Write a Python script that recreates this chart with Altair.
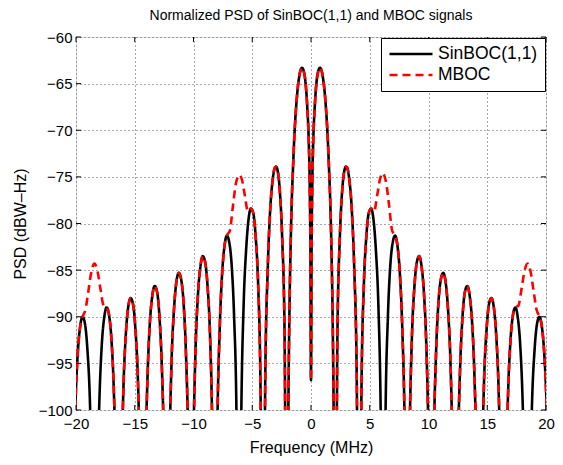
import altair as alt
import pandas as pd

chart_title = "Normalized PSD of SinBOC(1,1) and MBOC signals"
series_names = ["SinBOC(1,1)", "MBOC"]
series_colors = ["black", "red"]
x_ticks = [-20, -15, -10, -5, 0, 5, 10, 15, 20]
y_ticks = [-100, -95, -90, -85, -80, -75, -70, -65, -60]

# SinBOC(1,1) PSD, negative frequencies (MHz) and values (dBW-Hz)
freq_neg = [
    -20.26, -20.05, -19.85, -19.64, -19.44, -19.23, -19.03, -18.82, -18.62, -18.41,
    -18.21, -18.00, -17.80, -17.59, -17.39, -17.19, -16.98, -16.78, -16.57, -16.37,
    -16.16, -15.96, -15.76, -15.55, -15.35, -15.14, -14.94, -14.73, -14.53, -14.32,
    -14.12, -13.91, -13.71, -13.50, -13.30, -13.09, -12.89, -12.69, -12.48, -12.28,
    -12.07, -11.87, -11.66, -11.46, -11.25, -11.05, -10.84, -10.64, -10.43, -10.23,
    -10.02, -9.82, -9.62, -9.41, -9.21, -9.00, -8.80, -8.59, -8.39, -8.18,
    -7.98, -7.77, -7.57, -7.36, -7.16, -6.96, -6.75, -6.55, -6.34, -6.14,
    -5.93, -5.73, -5.52, -5.32, -5.12, -4.91, -4.71, -4.50, -4.30, -4.09,
    -3.89, -3.68, -3.48, -3.27, -3.07, -2.97, -2.86, -2.66, -2.46, -2.25, -2.05,
    -1.94, -1.89, -1.84, -1.74, -1.64, -1.53, -1.43, -1.33, -1.23, -1.13, -1.02,
    -0.92, -0.76, -0.61, -0.51, -0.41, -0.31, -0.20, -0.10, -0.05,
]
psd_neg = [
    -111.0, -99.5, -93.9, -91.0, -90.0, -90.8, -93.5, -98.9, -110.0, -130.0,
    -109.8, -98.6, -92.9, -90.0, -89.0, -89.8, -92.5, -97.9, -109.0, -130.0,
    -108.8, -97.5, -91.9, -88.9, -88.0, -88.7, -91.4, -96.8, -107.9, -130.0,
    -107.6, -96.3, -90.6, -87.7, -86.7, -87.4, -90.1, -95.5, -106.5, -130.0,
    -106.3, -94.9, -89.2, -86.3, -85.3, -86.0, -88.6, -94.0, -105.0, -130.0,
    -104.7, -93.3, -87.6, -84.6, -83.5, -84.2, -86.8, -92.1, -103.1, -130.0,
    -102.7, -91.3, -85.5, -82.4, -81.3, -82.0, -84.5, -89.8, -100.7, -130.0,
    -100.1, -88.6, -82.8, -79.6, -78.4, -78.9, -81.4, -86.5, -97.3, -130.0,
    -96.4, -84.8, -78.7, -75.4, -74.0, -73.9, -74.2, -76.4, -81.3, -91.7, -130.0,
    -102.2, -95.1, -89.9, -82.8, -77.7, -74.0, -71.0, -68.7, -66.9, -65.5, -64.4,
    -63.7, -63.3, -63.7, -64.4, -65.7, -67.7, -70.8, -76.6, -82.6,
]
freq_center = [0.0]
psd_center = [-96.8]
# SinBOC(1,1) PSD, positive frequencies
freq_pos = [
    0.05, 0.10, 0.20, 0.31, 0.41, 0.51, 0.61, 0.76, 0.92,
    1.02, 1.13, 1.23, 1.33, 1.43, 1.53, 1.64, 1.74, 1.84, 1.89, 1.94,
    2.05, 2.25, 2.46, 2.66, 2.86, 2.97, 3.07, 3.27, 3.48, 3.68, 3.89,
    4.09, 4.30, 4.50, 4.71, 4.91, 5.12, 5.32, 5.52, 5.73, 5.93,
    6.14, 6.34, 6.55, 6.75, 6.96, 7.16, 7.36, 7.57, 7.77, 7.98,
    8.18, 8.39, 8.59, 8.80, 9.00, 9.21, 9.41, 9.62, 9.82, 10.02,
    10.23, 10.43, 10.64, 10.84, 11.05, 11.25, 11.46, 11.66, 11.87, 12.07,
    12.28, 12.48, 12.69, 12.89, 13.09, 13.30, 13.50, 13.71, 13.91, 14.12,
    14.32, 14.53, 14.73, 14.94, 15.14, 15.35, 15.55, 15.76, 15.96, 16.16,
    16.37, 16.57, 16.78, 16.98, 17.19, 17.39, 17.59, 17.80, 18.00, 18.21,
    18.41, 18.62, 18.82, 19.03, 19.23, 19.44, 19.64, 19.85, 20.05, 20.26,
]
psd_pos = [
    -82.6, -76.6, -70.8, -67.7, -65.7, -64.4, -63.7, -63.3, -63.7,
    -64.4, -65.5, -66.9, -68.7, -71.0, -74.0, -77.7, -82.8, -89.9, -95.1, -102.2,
    -130.0, -91.7, -81.3, -76.4, -74.2, -73.9, -74.0, -75.4, -78.7, -84.8, -96.4,
    -130.0, -97.3, -86.5, -81.4, -78.9, -78.4, -79.6, -82.8, -88.6, -100.1,
    -130.0, -100.7, -89.8, -84.5, -82.0, -81.3, -82.4, -85.5, -91.3, -102.7,
    -130.0, -103.1, -92.1, -86.8, -84.2, -83.5, -84.6, -87.6, -93.3, -104.7,
    -130.0, -105.0, -94.0, -88.6, -86.0, -85.3, -86.3, -89.2, -94.9, -106.3,
    -130.0, -106.5, -95.5, -90.1, -87.4, -86.7, -87.7, -90.6, -96.3, -107.6,
    -130.0, -107.9, -96.8, -91.4, -88.7, -88.0, -88.9, -91.9, -97.5, -108.8,
    -130.0, -109.0, -97.9, -92.5, -89.8, -89.0, -90.0, -92.9, -98.6, -109.8,
    -130.0, -110.0, -98.9, -93.5, -90.8, -90.0, -91.0, -93.9, -99.5, -111.0,
]

# MBOC: where it departs from SinBOC(1,1) (BOC(6,1) component)
mboc_arch_freq = [
    -19.19, -18.94, -18.68, -18.43, -18.17, -17.92, -17.65,
    -6.91, -6.65, -6.39, -6.09, -5.88, -5.63, -5.37,
    5.37, 5.63, 5.88, 6.09, 6.39, 6.65, 6.91,
    17.65, 17.92, 18.17, 18.43, 18.68, 18.94, 19.19,
]
mboc_arch_psd = [
    -89.2, -87.2, -85.1, -84.3, -85.1, -87.0, -88.8,
    -80.8, -78.2, -75.7, -74.8, -75.3, -77.0, -78.7,
    -78.7, -77.0, -75.2, -74.6, -75.6, -78.1, -80.8,
    -88.8, -87.0, -85.1, -84.3, -85.1, -87.2, -89.2,
]
mboc_arch_lo = [-19.44, -7.16, 5.12, 17.39]
mboc_arch_hi = [-17.39, -5.12, 7.16, 19.44]

sin_f = freq_neg + freq_center + freq_pos
sin_p = psd_neg + psd_center + psd_pos
df_sin = pd.DataFrame({"f": sin_f, "psd": sin_p, "series": series_names[0]})


def in_arch(f):
    return any(lo < f < hi for lo, hi in zip(mboc_arch_lo, mboc_arch_hi))


mb_rows = [(f, p) for f, p in zip(sin_f, sin_p) if not in_arch(f)]
mb_rows += list(zip(mboc_arch_freq, mboc_arch_psd))
mb_rows.sort()
df_mb = pd.DataFrame({"f": [r[0] for r in mb_rows], "psd": [r[1] for r in mb_rows],
                      "series": series_names[1]})

W, H = 470, 373
FONT = "Liberation Sans"

legend = alt.Legend(title=None, orient="top-right", offset=1, fillColor="white",
                    strokeColor="black", padding=7, symbolType="stroke",
                    symbolSize=1850, symbolStrokeWidth=2.5, labelFontSize=17.5,
                    labelFont=FONT, labelColor="black", rowPadding=3,
                    labelOffset=4, labelLimit=300, clipHeight=18)

xscale = alt.Scale(domain=[-20, 20], nice=False, zero=False)
yscale = alt.Scale(domain=[-100, -60], nice=False, zero=False)
xaxis = alt.Axis(title="Frequency (MHz)", values=x_ticks, format="d",
                 ticks=False, domain=False, grid=True,
                 gridDash=[1, 3], gridColor="#555", gridWidth=1,
                 labelFontSize=15, labelFont=FONT, labelColor="black",
                 labelPadding=6, titleFontSize=16, titleFont=FONT,
                 titleFontWeight="normal", titleColor="black",
                 titlePadding=8, labelFlush=False)
yaxis = alt.Axis(title="PSD (dBW–Hz)", values=y_ticks, format="d",
                 ticks=False, domain=False, grid=True,
                 gridDash=[1, 3], gridColor="#555", gridWidth=1,
                 labelFontSize=15, labelFont=FONT, labelColor="black",
                 labelPadding=4, titleFontSize=16, titleFont=FONT,
                 titleFontWeight="normal", titleColor="black",
                 titlePadding=10, labelFlush=False)

xenc = alt.X("f:Q", scale=xscale, axis=xaxis)
yenc = alt.Y("psd:Q", scale=yscale, axis=yaxis)
cenc = alt.Color("series:N", scale=alt.Scale(domain=series_names, range=series_colors),
                 legend=legend)
denc = alt.StrokeDash("series:N",
                      scale=alt.Scale(domain=series_names, range=[[1, 0], [8, 5]]),
                      legend=legend)

black = alt.Chart(df_sin).mark_line(clip=True, interpolate="monotone",
                                    strokeWidth=2.6).encode(
    x=xenc, y=yenc, color=cenc, strokeDash=denc, order="f:Q")
red = alt.Chart(df_mb).mark_line(clip=True, interpolate="monotone",
                                 strokeWidth=2.6).encode(
    x=xenc, y=yenc, color=cenc, strokeDash=denc, order="f:Q")

dfx = pd.DataFrame({"f": x_ticks})
dfy = pd.DataFrame({"psd": y_ticks})
tx_b = alt.Chart(dfx).mark_rule(color="black", strokeWidth=1).encode(
    x=xenc, y=alt.value(H), y2=alt.value(H - 5))
tx_t = alt.Chart(dfx).mark_rule(color="black", strokeWidth=1).encode(
    x=xenc, y=alt.value(0), y2=alt.value(5))
ty_l = alt.Chart(dfy).mark_rule(color="black", strokeWidth=1).encode(
    y=yenc, x=alt.value(0), x2=alt.value(5))
ty_r = alt.Chart(dfy).mark_rule(color="black", strokeWidth=1).encode(
    y=yenc, x=alt.value(W - 5), x2=alt.value(W))

chart = alt.layer(black, red, tx_b, tx_t, ty_l, ty_r).properties(
    width=W, height=H,
    title=alt.Title(chart_title, fontSize=14, font=FONT, fontWeight="normal",
                    color="black", offset=7, anchor="middle"),
    autosize=alt.AutoSizeParams(type="none"),
    padding={"left": 68, "top": 29, "right": 9, "bottom": 47},
).configure_view(stroke="black", strokeWidth=1).configure(background="white")

chart.save("out.html", embed_options={"renderer": "svg", "actions": False})
